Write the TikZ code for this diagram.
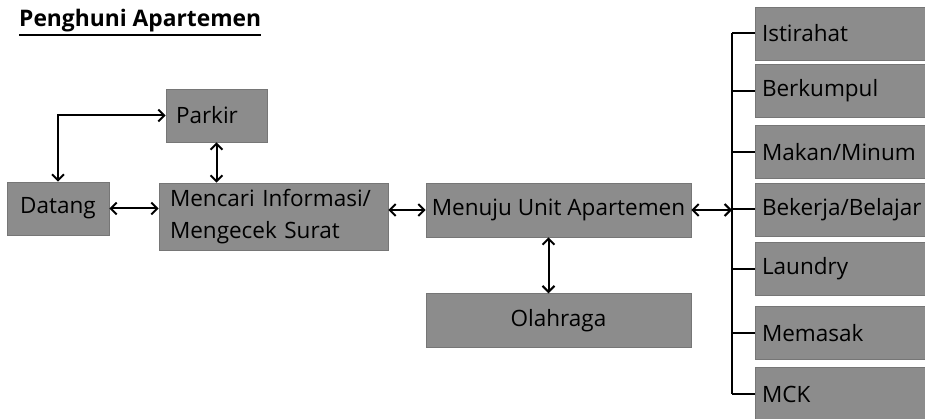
\documentclass[tikz,border=0pt]{standalone}
\usepackage{fontspec}
\setmainfont{Open Sans}
\usetikzlibrary{positioning, arrows.meta}
\definecolor{boxgray}{RGB}{140,140,140}
\definecolor{boxline}{RGB}{118,118,118}
\newcommand\thickul[1]{\leavevmode\vtop{\hbox{#1}\kern1.2pt\hrule height 2pt}}
\tikzset{
    box/.style={draw=boxline, line width=0.6pt, fill=boxgray, inner sep=0pt,
        font=\fontsize{22.5}{32}\selectfont, text=black},
    act/.style={box, minimum width=170pt, minimum height=53pt,
        text width=156pt, align=left},
    arr/.style={line width=2pt, {Straight Barb[length=6pt,width=12pt]}-{Straight Barb[length=6pt,width=12pt]}},
    bus/.style={line width=2pt},
}

\begin{document}
\begin{tikzpicture}[x=1pt, y=-1pt]
    \useasboundingbox (0,0) rectangle (925,419);

    % title
    \node [anchor=base west, inner sep=0pt, font=\fontsize{22.8}{26}\selectfont\bfseries]
        (title) at (19,27) {\thickul{Penghuni Apartemen}};

    % left part
    \node [box, minimum width=101pt, minimum height=53pt, text width=81pt, align=left]
        (parkir) at (216.5,115.5) {Parkir};
    \node [box, minimum width=102pt, minimum height=53pt]
        (datang) at (58,208.5) {Datang};
    \node [box, minimum width=229pt, minimum height=67pt, text width=207pt, align=left]
        (info) at (273.5,216.5) {Mencari Informasi/\\Mengecek Surat};
    \node [box, minimum width=265pt, minimum height=54pt]
        (unit) at (558.5,210) {Menuju Unit Apartemen};
    \node [box, minimum width=265pt, minimum height=54pt, below=56pt of unit]
        (olah) {Olahraga};

    % activities
    \node [act] (a1) at (840,33.5) {Istirahat};
    \node [act] (a2) at (840,91) {Berkumpul};
    \node [act] (a3) at (840,152) {Makan/Minum};
    \node [act] (a4) at (840,209.5) {Bekerja/Belajar};
    \node [act] (a5) at (840,269) {Laundry};
    \node [act] (a6) at (840,333) {Memasak};
    \node [act] (a7) at (840,394) {MCK};
    \coordinate (bus) at (732,0);

    \draw [arr] (datang.north) |- (parkir.west);
    \draw [arr] (datang.east) -- (datang.east -| info.west);
    \draw [arr] (parkir.south) -- (parkir.south |- info.north);
    \draw [arr] (unit.west -| info.east) -- (unit.west);
    \draw [arr] ([xshift=-10pt]unit.south) -- ([xshift=-10pt]olah.north);
    \draw [arr] (unit.east) -- (unit.east -| bus);

    \draw [bus] (a1.west -| bus) -- (a7.west -| bus);
    \foreach \n in {a1,a2,a3,a4,a5,a6,a7}
        \draw [bus] (\n.west) -- (\n.west -| bus);
\end{tikzpicture}
\end{document}
